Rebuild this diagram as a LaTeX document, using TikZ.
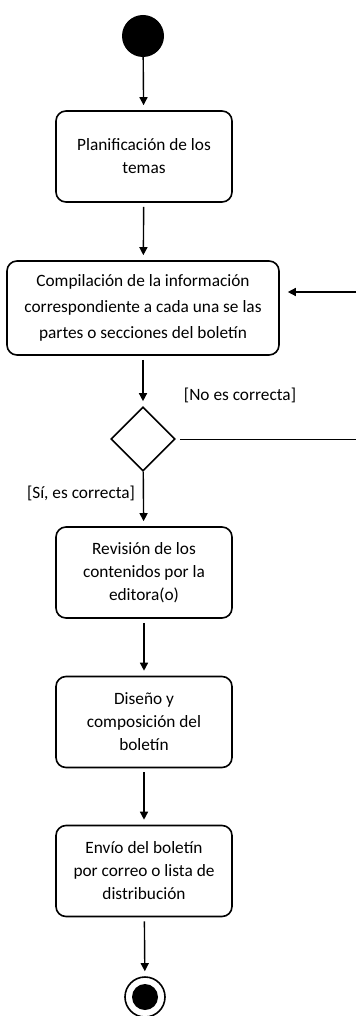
\documentclass[tikz,border=0pt]{standalone}
\usepackage{fontspec}
\setmainfont{Carlito}
\usetikzlibrary{arrows.meta,shapes.geometric}

\begin{document}
\begin{tikzpicture}[x=1pt,y=-1pt,
  actbox/.style={draw,line width=1.6pt,rounded corners=10pt,minimum width=176pt,
    minimum height=91pt,align=center,inner sep=0pt,font=\fontsize{17.3}{23}\selectfont},
  flow/.style={line width=1.4pt,-{Triangle[length=8pt,width=8pt]},shorten >=5pt,shorten <=4pt},
  guard/.style={font=\fontsize{17.3}{20}\selectfont}]
  \useasboundingbox (0,0) rectangle (356,1016);

  % start and end states
  \node[circle,fill=black,minimum size=42pt,inner sep=0pt] (start) at (143,36) {};
  \node[circle,draw,line width=1.6pt,minimum size=40pt,inner sep=0pt] (final) at (145,997) {};
  \node[circle,fill=black,minimum size=26pt,inner sep=0pt] (finaldot) at (final) {};

  % activities
  \node[actbox] (plan) at (144,156.5) {Planificación de los\\temas};
  \node[actbox,minimum width=272pt,minimum height=94pt,font=\fontsize{17.3}{26}\selectfont] (comp) at (143,308)
    {Compilación de la información\\correspondiente a cada una se las\\partes o secciones del boletín};
  \node[diamond,draw,line width=1.6pt,minimum size=64pt,inner sep=0pt] (check) at (143,439) {};
  \node[actbox] (rev) at (144,572.5) {Revisión de los\\contenidos por la\\editora(o)};
  \node[actbox] (dis) at (144,722) {Diseño y\\composición del\\boletín};
  \node[actbox] (send) at (144,871) {Envío del boletín\\por correo o lista de\\distribución};

  % guards
  \node[guard] (no) at (240,395) {[No es correcta]};
  \node[guard] (yes) at (81,493) {[Sí, es correcta]};

  % loop ends leave the picture on the right
  \coordinate (backin) at (356,292);
  \coordinate (backout) at (356,439);

  \draw[flow,shorten <=0pt] (start) -- (plan);
  \draw[flow] (plan) -- (comp);
  \draw[flow] (comp) -- (check);
  \draw[flow,shorten <=0pt] (check) -- (rev);
  \draw[flow] (rev) -- (dis);
  \draw[flow] (dis) -- (send);
  \draw[flow] (send) -- (final);
  \draw[line width=0.9pt,shorten <=4pt] (check.east) -- (backout);
  \draw[flow,shorten <=0pt,shorten >=8pt] (backin) -- (backin -| comp.east);
\end{tikzpicture}
\end{document}
